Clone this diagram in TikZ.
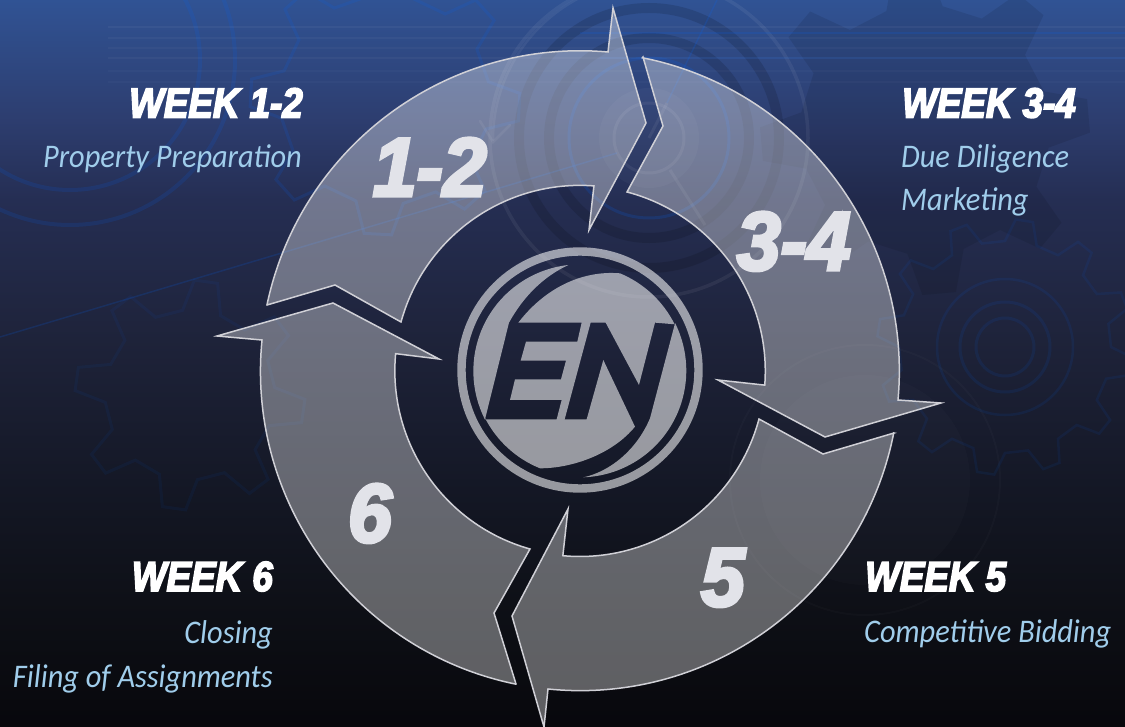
\documentclass[tikz,border=0pt]{standalone}
\usepackage{fontspec}
\newfontfamily\heavyfont[BoldItalicFeatures={FakeBold=4,FakeStretch=0.875}]{Liberation Sans}
\newfontfamily\bignumfont[BoldItalicFeatures={FakeBold=4,FakeStretch=0.95}]{Liberation Sans}
\newfontfamily\lightfont[ItalicFeatures={FakeStretch=0.92}]{Carlito}
\pgfdeclareverticalshading{bgshade}{100bp}{
  rgb(0bp)=(0.03,0.03,0.047);
  rgb(25bp)=(0.03,0.03,0.047);
  rgb(33.7bp)=(0.055,0.063,0.09);
  rgb(42bp)=(0.08,0.094,0.15);
  rgb(51.6bp)=(0.118,0.137,0.227);
  rgb(61.2bp)=(0.145,0.18,0.325);
  rgb(66.75bp)=(0.176,0.24,0.435);
  rgb(75bp)=(0.19,0.325,0.58);
  rgb(100bp)=(0.19,0.325,0.58)}
\definecolor{edgecol}{RGB}{208,208,214}
\definecolor{subcol}{RGB}{160,205,235}
\definecolor{numcol}{RGB}{226,227,233}
\tikzset{
  segment/.style={fill=white,fill opacity=.35,draw=edgecol,draw opacity=1,line width=1.5pt,miter limit=30},
  weeklabel/.style={inner sep=0pt,text=white,font=\heavyfont\bfseries\itshape\fontsize{42}{42}\selectfont},
  sublabel/.style={inner sep=0pt,text=subcol,font=\lightfont\itshape\fontsize{33}{33}\selectfont},
  bignum/.style={inner sep=0pt,text=numcol,font=\bignumfont\bfseries\itshape\fontsize{83}{83}\selectfont},
  logopart/.style={fill=white,fill opacity=.56,draw=none},
  ringline/.style={draw=white,draw opacity=.06,fill=none},
  blueline/.style={draw=blue!60!cyan,draw opacity=.13,fill=none},
  darkline/.style={draw=black,draw opacity=.13,fill=none}
}
% gear outline: centre, outer r, inner r, teeth, rotation
\newcommand{\geartrace}[6]{%
  \path[#6,shift={(#1)},rotate=#5] (0:#3)
    \foreach \gi in {1,...,#4}{
      -- ({(\gi-1)*360/#4+0.16*360/#4}:#2)
      -- ({(\gi-1)*360/#4+0.42*360/#4}:#2)
      -- ({(\gi-1)*360/#4+0.58*360/#4}:#3)
      -- ({\gi*360/#4}:#3)
    } -- cycle;}
\begin{document}
\begin{tikzpicture}[x=1pt,y=-1pt,line join=miter]
\useasboundingbox (0,0) rectangle (1125,727);
\path[shading=bgshade] (0,0) rectangle (1125,727);
% faint background artwork
\begin{scope}
\draw[blueline,line width=4pt] (70,60) circle[radius=130pt];
\draw[blueline,line width=4pt] (70,60) circle[radius=165pt];
\geartrace{385,100}{135}{105}{8}{10}{blueline,line width=3pt}
\geartrace{190,395}{115}{85}{8}{5}{blueline,line width=3pt,draw opacity=.06}
\geartrace{925,130}{165}{125}{8}{18}{fill=black,fill opacity=.09}
\geartrace{1005,347}{128}{106}{12}{0}{blueline,line width=2.5pt,draw opacity=.08}
\draw[blueline,line width=2.5pt,draw opacity=.09] (1005,347) circle[radius=68pt];
\draw[blueline,line width=3pt,draw opacity=.09] (1005,347) circle[radius=45pt];
\draw[blueline,line width=3pt,draw opacity=.09] (1005,347) circle[radius=29pt];
\draw[ringline,line width=3.5pt] (649,138) circle[radius=159pt];
\draw[darkline,line width=10pt] (649,138) circle[radius=130pt];
\draw[darkline,line width=10pt] (649,138) circle[radius=100pt];
\draw[blueline,line width=3pt,draw opacity=.16] (649,138) circle[radius=80pt];
\fill[white,fill opacity=.03] (649,138) circle[radius=50pt];
\draw[ringline,line width=3pt] (649,138) circle[radius=35pt];
\draw[ringline,line width=2.5pt,line cap=round] (493,140) arc[start angle=180,end angle=110,radius=160pt];
\draw[ringline,line width=2.5pt,line cap=round] (480,121) -- (493,142) -- (510,125);
\draw[blueline,line width=1.5pt,draw opacity=.16] (0,337) -- (617,153);
\draw[blueline,line width=1.5pt,draw opacity=.16] (667,103) -- (717,0);
\draw[ringline,line width=3pt] (667,103) -- (649,138) (670,170) -- (705,225);
\foreach \yy/\op in {27/.045,38/.035,48/.03,58/.035,71/.025,82/.025}{
  \draw[white,draw opacity=\op,line width=1.2pt] (108,\yy) -- (1125,\yy);}
\draw[blue!60!cyan,draw opacity=.14,line width=2pt] (580,33) -- (1125,33);
\draw[blue!60!cyan,draw opacity=.1,line width=1.5pt] (600,58) -- (1125,58);
\fill[white,fill opacity=.015] (865,480) circle[radius=105pt];
\draw[ringline,line width=2pt,draw opacity=.02] (865,480) circle[radius=135pt];
\end{scope}
% ring segments
\path[segment] (267,305) -- (335,285) -- (401,322)
  arc[start angle=164.7,end angle=85.7,radius=185.6pt]
  -- (589,230) -- (646,123) -- (613,8) -- (608,52)
  arc[start angle=85,end angle=168.1,radius=320pt] -- cycle;
\path[segment] (643,57) -- (663,126) -- (627,192)
  arc[start angle=75.3,end angle=-4.3,radius=185.3pt]
  -- (718,380) -- (825,437) -- (941,403) -- (898,400)
  arc[start angle=-5.2,end angle=78.7,radius=319.5pt] -- cycle;
\path[segment] (894,433) -- (823,454) -- (759,419)
  arc[start angle=-15,end angle=-95.25,radius=185.5pt]
  -- (568,509) -- (512,616) -- (544,727) -- (548,689)
  arc[start angle=-95.75,end angle=-11.2,radius=319.8pt] -- cycle;
\path[segment] (516,684) -- (494,613) -- (530,549)
  arc[start angle=254.3,end angle=174.75,radius=185.3pt]
  -- (439,359) -- (333,303) -- (217,336) -- (262,340)
  arc[start angle=174.4,end angle=258.4,radius=319.5pt] -- cycle;
% logo
\fill[white,fill opacity=.56,even odd rule] (580,370) circle[radius=122.7pt] (580,370) circle[radius=114.3pt];
\begin{scope}[shift={(440,230)},x=0.3333pt,y=-0.3333pt]
\path[logopart] (385,105) arc[start angle=96.3,end angle=207,radius=106.7pt]
  -- (207,278) .. controls (250,200) and (310,140) .. (385,105) -- cycle;
\path[logopart] (135,568) -- (350,568) -- (365,510) -- (210,510) -- (225,448) -- (363,448)
  -- (378,392) -- (242,392) -- (258,335) -- (412,335) -- (425,278) -- (235,278)
  .. controls (310,180) and (420,120) .. (540,130)
  arc[start angle=67.5,end angle=26.5,radius=106.7pt]
  -- (645,278) -- (597,465) -- (497,278) -- (452,278) -- (374,568) -- (440,568) -- (490,390)
  -- (585,590) .. controls (520,670) and (400,715) .. (300,715)
  arc[start angle=248,end angle=207,radius=106.7pt] -- cycle;
\path[logopart] (430,742) arc[start angle=-88,end angle=26.5,radius=106.7pt]
  -- (630,565) .. controls (590,660) and (510,725) .. (430,742) -- cycle;
\end{scope}
% big numbers
\node[bignum,anchor=base east] (n12) at (487,196) {1-2};
\node[bignum,anchor=base east] (n34) at (851,270) {3-4};
\node[bignum,anchor=base east] (n5) at (745,606) {5};
\node[bignum,anchor=base east] (n6) at (392,542) {6};
% labels
\node[weeklabel,anchor=base east] (w12) at (303,117.5) {WEEK 1-2};
\node[sublabel,anchor=base east] (s12) at (302,168) {Property Preparation};
\node[weeklabel,anchor=base west] (w34) at (902,117.5) {WEEK 3-4};
\node[sublabel,anchor=base west] (s34a) at (901,167.7) {Due Diligence};
\node[sublabel,anchor=base west] (s34b) at (901,211) {Marketing};
\node[weeklabel,anchor=base west] (w5) at (865,591) {WEEK 5};
\node[sublabel,anchor=base west] (s5) at (864,642) {Competitive Bidding};
\node[weeklabel,anchor=base east] (w6) at (273,591) {WEEK 6};
\node[sublabel,anchor=base east] (s6a) at (273,643) {Closing};
\node[sublabel,anchor=base east] (s6b) at (273,687) {Filing of Assignments};
\end{tikzpicture}
\end{document}
